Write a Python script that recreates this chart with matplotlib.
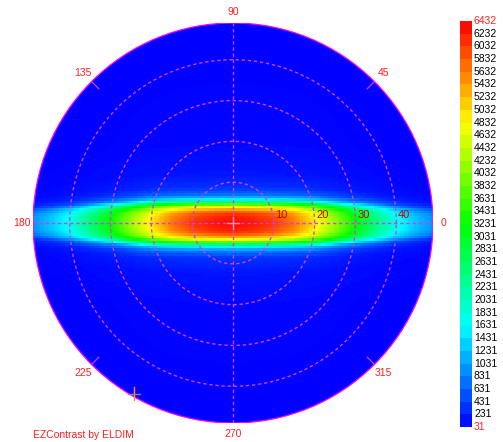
import numpy as np
import matplotlib
matplotlib.use("Agg")
import matplotlib.pyplot as plt
from matplotlib.colors import LinearSegmentedColormap, ListedColormap
from matplotlib.patches import Circle

plt.rcParams["font.family"] = ["Liberation Sans", "DejaVu Sans"]

# === Data ===
R_MAX = 49.0                       # outer incidence angle (deg)
RINGS = [10, 20, 30, 40]
AZ_LABELS = [0, 45, 90, 135, 180, 225, 270, 315]

# luminance along the horizontal axis (|theta_x| in deg)
THETA_X = [0, 5, 10, 15, 20, 25, 30, 35, 40, 45, 49]
LUM_AXIS = [6400, 6300, 6100, 5700, 5000, 4200, 3300, 2500, 1800, 1300, 1000]

# vertical fall-off of the band (|theta_y| in deg -> fraction of axis value)
Y_OFFSET = [0, 2, 3, 3.7, 4.3, 4.9, 5.6, 6.9, 8.6, 12, 20, 49]
Y_FRACTION = [1.0, 0.97, 0.9, 0.8, 0.7, 0.5, 0.27, 0.12, 0.05, 0.02, 0.005, 0.0]
# band half-width scale along the horizontal axis
WIDTH_X = [0, 20, 35, 49]
WIDTH_SCALE = [1.0, 1.0, 0.88, 0.72]
BACKGROUND = 40

VMIN, VMAX = 31, 6432
CBAR_LABELS = ["6432", "6232", "6032", "5832", "5632", "5432", "5232", "5032",
               "4832", "4632", "4432", "4232", "4032", "3832", "3631", "3431",
               "3231", "3031", "2831", "2631", "2431", "2231", "2031", "1831",
               "1631", "1431", "1231", "1031", "831", "631", "431", "231", "31"]

CROSS_POS = (-24.3, -41.8)          # orange marker near the rim

# === Colours ===
cmap = LinearSegmentedColormap.from_list(
    "ez", ["#0000ff", "#00ffff", "#00ff00", "#ffff00", "#ff0000"])
GRID_COL = "#d040e0"
LABEL_COL = "#ff2020"

# === Figure ===
W, H = 503, 442
fig = plt.figure(figsize=(W / 100, H / 100), dpi=100)
fig.patch.set_facecolor("white")

cx, cy, rad = 233, 223, 200   # circle centre / radius in pixels
ax = fig.add_axes([(cx - rad) / W, (H - cy - rad) / H, 2 * rad / W, 2 * rad / H])
ax.set_xlim(-R_MAX, R_MAX)
ax.set_ylim(-R_MAX, R_MAX)
ax.set_aspect("equal")
ax.axis("off")

# build luminance field
g = np.linspace(-R_MAX, R_MAX, 160)
X, Y = np.meshgrid(g, g)
axis_val = np.interp(np.abs(X), THETA_X, LUM_AXIS)
width = np.interp(np.abs(X), WIDTH_X, WIDTH_SCALE)
frac = np.interp(np.abs(Y) / width, Y_OFFSET, Y_FRACTION)
L = BACKGROUND + (axis_val - BACKGROUND) * frac

im = ax.imshow(L, extent=(-R_MAX, R_MAX, -R_MAX, R_MAX), origin="lower",
               cmap=cmap, vmin=VMIN, vmax=VMAX, interpolation="nearest")
clip = Circle((0, 0), R_MAX, transform=ax.transData)
im.set_clip_path(clip)

# outer border
ax.add_patch(Circle((0, 0), R_MAX, fill=False, ec="#ff00ff", lw=0.9, zorder=3))

# dashed rings and axes
t = np.linspace(0, 2 * np.pi, 400)
for r in RINGS:
    ax.plot(r * np.cos(t), r * np.sin(t), color=GRID_COL, lw=1.0,
            dashes=(2.4, 2.0), zorder=2)
    ax.text(r + 0.4, 0.8, str(r), color="#cc0000", fontsize=8,
            ha="left", va="bottom", zorder=4)
ax.plot([-R_MAX, R_MAX], [0, 0], color=GRID_COL, lw=1.0, dashes=(2.4, 2.0), zorder=2)
ax.plot([0, 0], [-R_MAX, R_MAX], color=GRID_COL, lw=1.0, dashes=(2.4, 2.0), zorder=2)

# short ticks on the diagonals
for a in [45, 135, 225, 315]:
    c, s = np.cos(np.radians(a)), np.sin(np.radians(a))
    ax.plot([46.5 * c, R_MAX * c], [46.5 * s, R_MAX * s], color=GRID_COL, lw=0.9, zorder=3)

# azimuth labels
for a in AZ_LABELS:
    c, s = np.cos(np.radians(a)), np.sin(np.radians(a))
    rr = 52.0 if a % 90 else 51.6
    ax.text(rr * c, rr * s, str(a), color=LABEL_COL, fontsize=7.5,
            ha="center", va="center", clip_on=False)

# centre cross and rim marker
ax.plot([-1.5, 1.5], [0, 0], color="#ff8cb4", lw=1.0, zorder=5)
ax.plot([0, 0], [-1.5, 1.5], color="#ff8cb4", lw=1.0, zorder=5)
ax.plot([CROSS_POS[0] - 1.5, CROSS_POS[0] + 1.6], [CROSS_POS[1]] * 2,
        color="#9a7aa8", lw=1.0, zorder=5, clip_on=False)
ax.plot([CROSS_POS[0]] * 2, [CROSS_POS[1] - 1.5, CROSS_POS[1] + 1.5],
        color="#ff8c1a", lw=1.0, zorder=5, clip_on=False)

fig.text(33 / W, 1 - 435 / H, "EZContrast by ELDIM", color=LABEL_COL,
         fontsize=7.5, ha="left", va="center")

# colour bar (32 bands)
n_bands = len(CBAR_LABELS) - 1
cb_top, cb_bot = 21, 427
cax = fig.add_axes([460 / W, (H - cb_bot) / H, 12 / W, (cb_bot - cb_top) / H])
band_cols = cmap((np.arange(n_bands) + 0.5) / n_bands)
cax.imshow(np.arange(n_bands).reshape(-1, 1), cmap=ListedColormap(band_cols),
           aspect="auto", origin="lower", interpolation="nearest")
cax.axis("off")
for k, lab in enumerate(CBAR_LABELS):
    ypix = cb_top + k * (cb_bot - cb_top) / n_bands
    col = LABEL_COL if k in (0, n_bands) else "black"
    fig.text(474 / W, 1 - ypix / H, lab, color=col, fontsize=7.5,
             ha="left", va="center")

fig.savefig("out.png", dpi=100, facecolor="white")
